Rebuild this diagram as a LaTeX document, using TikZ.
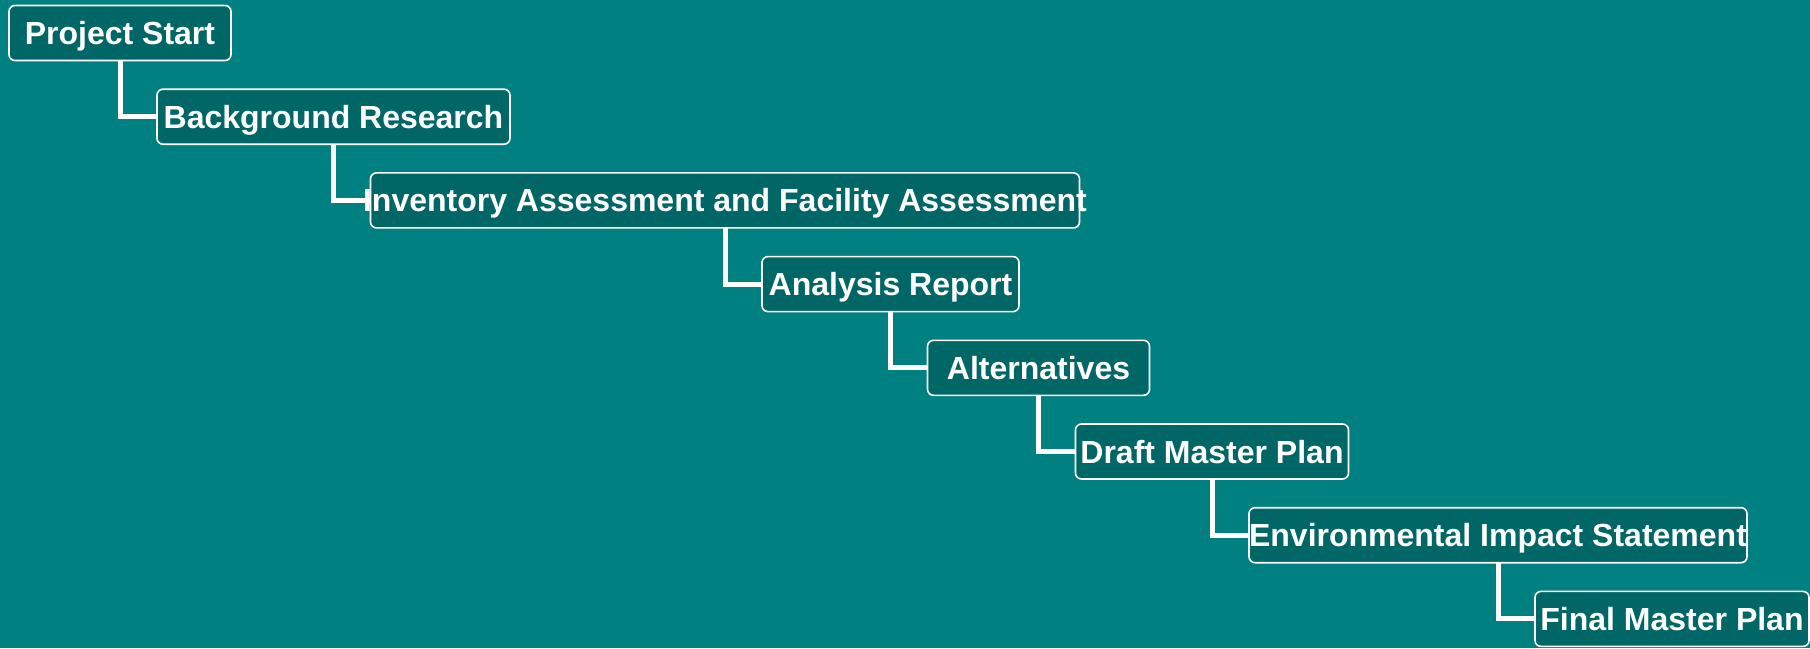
\documentclass[tikz,border=0pt]{standalone}
\usepackage{fontspec}
\setmainfont{Liberation Sans}
\usetikzlibrary{positioning}
\definecolor{tealbg}{RGB}{0,128,128}
\definecolor{tealbox}{RGB}{0,102,102}
% label may run past its box, as in the original
\newcommand{\steplabel}[1]{\makebox[0pt]{#1}}

\begin{document}
\begin{tikzpicture}[
  x=0.5pt, y=-0.5pt,
  phase/.style={rectangle, draw=white, line width=0.8pt, rounded corners=3pt,
                fill=tealbox, text=white, inner sep=0pt, outer sep=0pt,
                font=\fontsize{16}{19}\selectfont\bfseries,
                text height=11.5pt, text depth=0pt,
                minimum height=27.5pt, minimum width=#1},
  link/.style={draw=white, line width=2.5pt},
  nextto/.style={below right=28.1pt and 18.5pt of #1.south, anchor=west}
]

% Background
\fill[tealbg] (0,0) rectangle (1810,648);
\useasboundingbox (0,0) rectangle (1810,648);

% Phases (staircase, each hangs off the previous one)
\node[phase=111pt, anchor=west] (start) at (9,33) {\steplabel{Project Start}};
\node[phase=176.5pt, nextto=start] (research) {\steplabel{Background Research}};
\node[phase=354.5pt, nextto=research] (inventory) {\steplabel{Inventory Assessment and Facility Assessment}};
\node[phase=128.5pt, nextto=inventory] (analysis) {\steplabel{Analysis Report}};
\node[phase=111pt, nextto=analysis] (alts) {\steplabel{Alternatives}};
\node[phase=136.5pt, nextto=alts] (draft) {\steplabel{Draft Master Plan}};
\node[phase=249pt, nextto=draft] (eis) {\steplabel{Environmental Impact Statement}};
\node[phase=137pt, nextto=eis] (final) {\steplabel{Final Master Plan}};

% Connectors
\foreach \s/\t in {start/research, research/inventory, inventory/analysis, analysis/alts,
                   alts/draft, draft/eis, eis/final}
  \draw[link] (\s.south) |- (\t.west);

\end{tikzpicture}
\end{document}
